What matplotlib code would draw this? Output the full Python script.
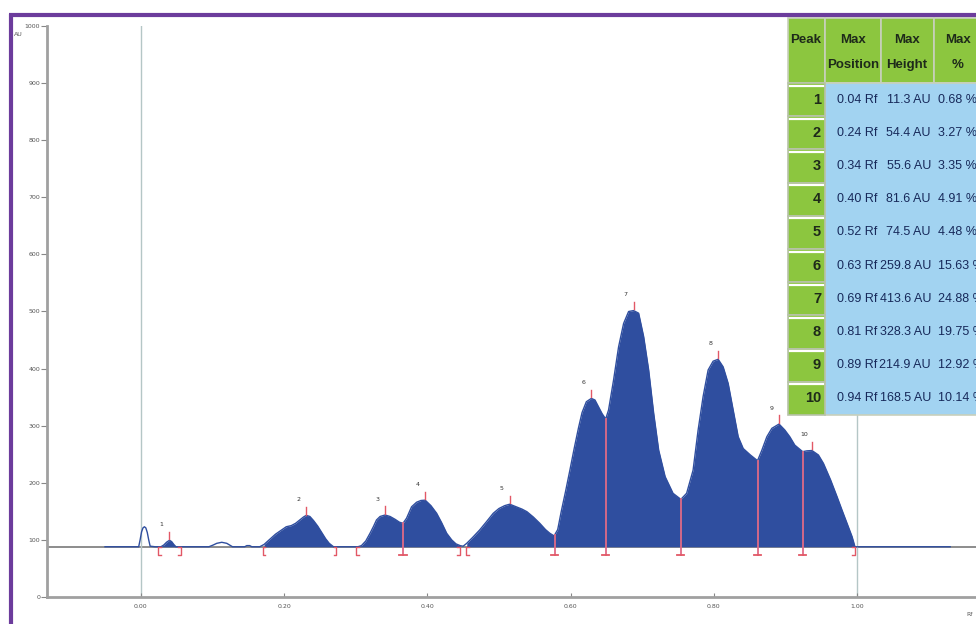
import matplotlib.pyplot as plt
from matplotlib.patches import Rectangle
import numpy as np

# densitogram trace (Rf, AU)
trace_rf = [-0.050, -0.003, -0.001, 0.001, 0.003, 0.005, 0.007, 0.009, 0.011, 0.013, 0.020,
            0.028, 0.032, 0.036, 0.040, 0.043, 0.046, 0.049, 0.060,
            0.095, 0.101, 0.106, 0.113, 0.120, 0.124, 0.128, 0.145, 0.148, 0.152, 0.155,
            0.166, 0.172, 0.180, 0.188, 0.196, 0.203, 0.210, 0.216, 0.222, 0.227, 0.231,
            0.236, 0.241, 0.247, 0.253, 0.258, 0.263, 0.269, 0.285,
            0.303, 0.308, 0.314, 0.320, 0.325, 0.329, 0.334, 0.341, 0.348, 0.355, 0.361, 0.366,
            0.371, 0.378, 0.385, 0.391, 0.397, 0.405, 0.413, 0.420, 0.427, 0.434, 0.440, 0.446,
            0.450, 0.455, 0.463, 0.473, 0.482, 0.492, 0.500, 0.508, 0.515, 0.524, 0.532, 0.539,
            0.548, 0.557, 0.565, 0.571, 0.577,
            0.582, 0.587, 0.593, 0.599, 0.605, 0.611, 0.616, 0.622, 0.629, 0.634, 0.639, 0.644, 0.649,
            0.653, 0.660, 0.667, 0.674, 0.681, 0.688, 0.695, 0.702, 0.709, 0.716, 0.723, 0.732, 0.743, 0.754,
            0.762, 0.771, 0.778, 0.785, 0.792, 0.799, 0.806, 0.813, 0.820, 0.827, 0.834, 0.841, 0.851, 0.861,
            0.867, 0.874, 0.881, 0.891, 0.899, 0.906, 0.913, 0.924,
            0.930, 0.937, 0.946, 0.953, 0.963, 0.972, 0.979, 0.986, 0.993, 0.997, 1.000, 1.130]
trace_au = [88, 88, 100, 114, 121, 123, 121, 113, 100, 89, 88,
            88, 91, 96, 99.3, 97, 92, 88, 88,
            88, 91, 94, 95.8, 94, 91, 88, 88, 90, 90, 88,
            88, 92, 101, 110, 117, 123, 125, 129, 135, 140, 143,
            141, 134, 124, 112, 102, 94, 88, 88,
            88, 90, 98, 111.6, 124, 134.9, 141, 143.6, 141, 136, 131, 129,
            138, 158, 166, 169, 169.6, 160, 146.6, 130, 111.6, 100, 93, 89.9,
            89, 94, 104, 117.3, 131, 146.6, 155, 160, 162.5, 158, 154, 149.4,
            140, 129, 118, 111.6, 107,
            118, 150, 185, 222, 260, 296, 323, 342, 347.8, 345, 333, 321, 311.7,
            327.5, 380, 438, 479, 500, 501.6, 497, 456, 397.5, 321.7, 257, 210.7, 181.6, 171,
            181.6, 222, 292, 351, 397.5, 413, 416.3, 403, 374, 327.5, 280.7, 260, 248.7, 238.7,
            257, 280.7, 295.4, 302.9, 292.5, 280.7, 266, 254.5,
            256, 256.5, 248.7, 234, 205, 175.6, 152, 129, 105.6, 88, 88, 88]

baseline = 88.0

# peak results table
peak_ids = [1, 2, 3, 4, 5, 6, 7, 8, 9, 10]
max_pos = [0.04, 0.24, 0.34, 0.40, 0.52, 0.63, 0.69, 0.81, 0.89, 0.94]
max_height = [11.3, 54.4, 55.6, 81.6, 74.5, 259.8, 413.6, 328.3, 214.9, 168.5]
max_pct = [0.68, 3.27, 3.35, 4.91, 4.48, 15.63, 24.88, 19.75, 12.92, 10.14]
header = ["Peak", "Max\nPosition", "Max\nHeight", "Max\n%"]

# apex positions as drawn
peak_rf = [0.040, 0.231, 0.341, 0.397, 0.515, 0.629, 0.688, 0.806, 0.891, 0.937]

# integration windows and peak splits
win_start = [0.024, 0.170, 0.300, 0.454]
win_end = [0.056, 0.273, 0.446, 0.997]
splits = [0.366, 0.578, 0.649, 0.754, 0.861, 0.924]

x_ticks = [0.0, 0.2, 0.4, 0.6, 0.8, 1.0]
y_ticks = list(range(0, 1001, 100))

blue = "#2f4e9f"
red = "#e25866"
tfont = "Liberation Sans"

fig = plt.figure(figsize=(9.76, 6.24), dpi=100)
ax = fig.add_axes([47 / 976, 27 / 624, 929 / 976, 571 / 624])
ax.set_xlim(-0.131, 1.166)
ax.set_ylim(0, 1000)

rf = np.array(trace_rf)
au = np.array(trace_au)

ax.axhline(baseline, color="#8c8c8c", lw=1.4, zorder=1)
ax.axvline(0.0, color="#b4c6c6", lw=1.0, zorder=1)
ax.axvline(1.0, color="#b4c6c6", lw=1.0, zorder=1)

for s, e in zip(win_start, win_end):
    m = (rf >= s) & (rf <= e)
    ax.fill_between(rf[m], baseline, au[m], color=blue, lw=0, zorder=2)
ax.plot(rf, au, color=blue, lw=1.0, zorder=3)

# window brackets
dx = 0.004
dy = 14
for s in win_start:
    ax.plot([s + dx, s, s, s + dx], [baseline, baseline, baseline - dy, baseline - dy],
            color=red, lw=1.0, zorder=4)
for e in win_end:
    ax.plot([e - dx, e, e, e - dx], [baseline, baseline, baseline - dy, baseline - dy],
            color=red, lw=1.0, zorder=4)

# splits between touching peaks
for s in splits:
    top = np.interp(s, rf, au)
    ax.plot([s, s], [top, baseline - dy], color="#e06a86", lw=1.3, zorder=4)
    ax.plot([s - 0.005, s + 0.005], [baseline - dy, baseline - dy], color=red, lw=1.3, zorder=4)

# apex ticks and labels
for pid, x, h in zip(peak_ids, peak_rf, max_height):
    top = baseline + h
    ax.plot([x, x], [top + 2, top + 15], color=red, lw=1.0, zorder=4)
    ax.text(x - 0.011, top + 28, str(pid), fontsize=4.5, color="#333333",
            ha="center", va="center", zorder=4)

for side in ["top", "right"]:
    ax.spines[side].set_visible(False)
for side in ["left", "bottom"]:
    ax.spines[side].set_color("#a0a0a0")
    ax.spines[side].set_linewidth(2)
ax.set_xticks(x_ticks)
ax.set_xticklabels(["%.2f" % t for t in x_ticks])
ax.set_yticks(y_ticks)
ax.tick_params(axis="x", direction="in", length=3, color="#888888", labelsize=4.5,
               labelcolor="#555555", pad=5)
ax.tick_params(axis="y", direction="out", length=4, color="#888888", labelsize=4.5,
               labelcolor="#555555", pad=1)
ax.set_facecolor("none")

# overlay in pixel coordinates for border, table and axis names
ov = fig.add_axes([0, 0, 1, 1])
ov.set_xlim(0, 976)
ov.set_ylim(624, 0)
ov.axis("off")
ov.patch.set_alpha(0)

ov.plot([9, 976], [15, 15], color="#6c3c9c", lw=3.0, solid_capstyle="butt")
ov.plot([11, 11], [14, 624], color="#6c3c9c", lw=3.0, solid_capstyle="butt")
ov.text(18, 35, "AU", fontsize=4.5, color="#555555", ha="center", va="center")
ov.text(970, 614, "Rf", fontsize=4.5, color="#555555", ha="center", va="center")

# results table
col_x = [788, 825, 881, 934, 995]
head_top, head_bot = 18, 83
row_h = 33.2
green = "#8cc63f"
light_blue = "#a2d3f1"

for i in range(4):
    ov.add_patch(Rectangle((col_x[i], head_top), col_x[i + 1] - col_x[i], head_bot - head_top,
                           facecolor=green, edgecolor="#c8d0bc", lw=1.2))
ov.add_patch(Rectangle((col_x[1], head_bot), col_x[-1] - col_x[1], row_h * len(peak_ids),
                       facecolor=light_blue, edgecolor="#c8d0bc", lw=1.2))
for i in range(len(peak_ids)):
    y0 = head_bot + i * row_h
    ov.add_patch(Rectangle((col_x[0], y0), col_x[1] - col_x[0], row_h,
                           facecolor=green, edgecolor="#b8c2aa", lw=1.2))
    ov.plot([col_x[0] + 2, col_x[1] - 2], [y0 + 2.5, y0 + 2.5], color="white", lw=1.6)

head_cx = [806, 853, 907, 958]
for i, h in enumerate(header):
    for k, t in enumerate(h.split("\n")):
        ov.text(head_cx[i], 40 + 25 * k, t, family=tfont, fontweight="bold", fontsize=9.5,
                color="#1e2a1a", ha="center", va="center")

for i in range(len(peak_ids)):
    yc = head_bot + (i + 0.5) * row_h
    ov.text(col_x[1] - 4, yc, str(peak_ids[i]), family=tfont, fontweight="bold",
            fontsize=10.5, color="#1e2a1a", ha="right", va="center")
    ov.text(col_x[2] - 4, yc, "%.2f Rf" % max_pos[i], family=tfont, fontsize=9,
            color="#17295a", ha="right", va="center")
    ov.text(col_x[3] - 3, yc, "%.1f AU" % max_height[i], family=tfont, fontsize=9,
            color="#17295a", ha="right", va="center")
    ov.text(col_x[3] + 4, yc, "%.2f %%" % max_pct[i], family=tfont, fontsize=9,
            color="#17295a", ha="left", va="center")

fig.savefig("out.png", dpi=100)
